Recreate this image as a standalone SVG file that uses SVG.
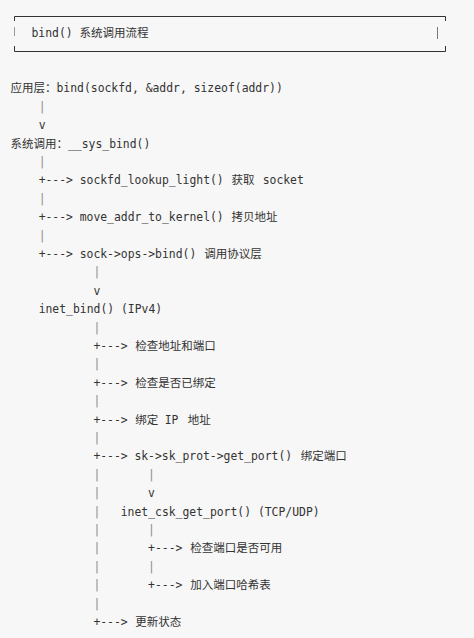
<svg xmlns="http://www.w3.org/2000/svg" width="474" height="638" viewBox="0 0 474 638">
<style>
  text { fill: #333; }
  .m { font-family: "DejaVu Sans Mono", "Liberation Mono", monospace; font-size: 11.4px; }
  .c { font-family: "Noto Sans CJK SC", "Noto Sans", sans-serif; font-size: 11.5px; }
  .p { fill: #8c8c8c; }
  .box { stroke: #333; stroke-width: 1; fill: none; }
</style>
<rect x="0" y="0" width="474" height="638" fill="#f7f7f7"/>

<g id="n-title">
  <path class="box" d="M14.5 21 V16.5 H445.5 V21"/>
  <path class="box" d="M14.5 46 V51.5 H445.5 V46"/>
  <line x1="14.5" y1="27" x2="14.5" y2="36" stroke="#999" stroke-width="1"/>
  <line x1="437.5" y1="27" x2="437.5" y2="39" stroke="#777" stroke-width="1"/>
  <text class="m" x="31.5" y="37">bind()</text>
  <text class="c" x="79.5" y="37">系统调用流程</text>
</g>

<g id="n-app">
  <text class="c" x="10.5" y="92.3">应用层：</text>
  <text class="m" x="56.5" y="92.3">bind(sockfd, &amp;addr, sizeof(addr))</text>
</g>

<g id="n-sys">
  <text class="c" x="10.5" y="147.5">系统调用：</text>
  <text class="m" x="68" y="147.5">__sys_bind()</text>
</g>

<g id="n-lookup">
  <text class="m" x="79.7" y="184.3">sockfd_lookup_light()</text>
  <text class="c" x="231.5" y="184.3">获取</text>
  <text class="m" x="262.7" y="184.3">socket</text>
</g>

<g id="n-move">
  <text class="m" x="79.7" y="221.1">move_addr_to_kernel()</text>
  <text class="c" x="231.5" y="221.1">拷贝地址</text>
</g>

<g id="n-opsbind">
  <text class="m" x="79.7" y="257.9">sock-&gt;ops-&gt;bind()</text>
  <text class="c" x="204.3" y="257.9">调用协议层</text>
</g>

<g id="n-inetbind">
  <text class="m" x="38.66" y="313.1">inet_bind() (IPv4)</text>
</g>

<g id="n-check-addr">
  <text class="c" x="135.3" y="349.9">检查地址和端口</text>
</g>

<g id="n-check-bound">
  <text class="c" x="135.3" y="386.7">检查是否已绑定</text>
</g>

<g id="n-bind-ip">
  <text class="c" x="135.3" y="423.5">绑定</text>
  <text class="m" x="164.7" y="423.5">IP</text>
  <text class="c" x="187.8" y="423.5">地址</text>
</g>

<g id="n-getport">
  <text class="m" x="134.42" y="460.3">sk-&gt;sk_prot-&gt;get_port()</text>
  <text class="c" x="300.8" y="460.3">绑定端口</text>
</g>

<g id="n-csk">
  <text class="m" x="120.74" y="515.5">inet_csk_get_port() (TCP/UDP)</text>
</g>

<g id="n-check-port">
  <text class="c" x="190.3" y="552.3">检查端口是否可用</text>
</g>

<g id="n-hash">
  <text class="c" x="190.3" y="589.1">加入端口哈希表</text>
</g>

<g id="n-update">
  <text class="c" x="135.3" y="625.9">更新状态</text>
</g>

<g id="connectors">
  <text class="m p" x="38.66" y="110.7">|</text>
  <text class="m" x="38.66" y="129.1">v</text>
  <text class="m p" x="38.66" y="165.9">|</text>
  <text class="m" x="38.66" y="184.3">+---&gt;</text>
  <text class="m p" x="38.66" y="202.7">|</text>
  <text class="m" x="38.66" y="221.1">+---&gt;</text>
  <text class="m p" x="38.66" y="239.5">|</text>
  <text class="m" x="38.66" y="257.9">+---&gt;</text>
  <text class="m p" x="93.38" y="276.3">|</text>
  <text class="m" x="93.38" y="294.7">v</text>
  <text class="m p" x="93.38" y="331.5">|</text>
  <text class="m" x="93.38" y="349.9">+---&gt;</text>
  <text class="m p" x="93.38" y="368.3">|</text>
  <text class="m" x="93.38" y="386.7">+---&gt;</text>
  <text class="m p" x="93.38" y="405.1">|</text>
  <text class="m" x="93.38" y="423.5">+---&gt;</text>
  <text class="m p" x="93.38" y="441.9">|</text>
  <text class="m" x="93.38" y="460.3">+---&gt;</text>
  <text class="m p" x="93.38" y="478.7">|</text>
  <text class="m p" x="148.1" y="478.7">|</text>
  <text class="m p" x="93.38" y="497.1">|</text>
  <text class="m" x="148.1" y="497.1">v</text>
  <text class="m p" x="93.38" y="515.5">|</text>
  <text class="m p" x="93.38" y="533.9">|</text>
  <text class="m p" x="148.1" y="533.9">|</text>
  <text class="m p" x="93.38" y="552.3">|</text>
  <text class="m" x="148.1" y="552.3">+---&gt;</text>
  <text class="m p" x="93.38" y="570.7">|</text>
  <text class="m p" x="148.1" y="570.7">|</text>
  <text class="m p" x="93.38" y="589.1">|</text>
  <text class="m" x="148.1" y="589.1">+---&gt;</text>
  <text class="m p" x="93.38" y="607.5">|</text>
  <text class="m" x="93.38" y="625.9">+---&gt;</text>
</g>
</svg>
